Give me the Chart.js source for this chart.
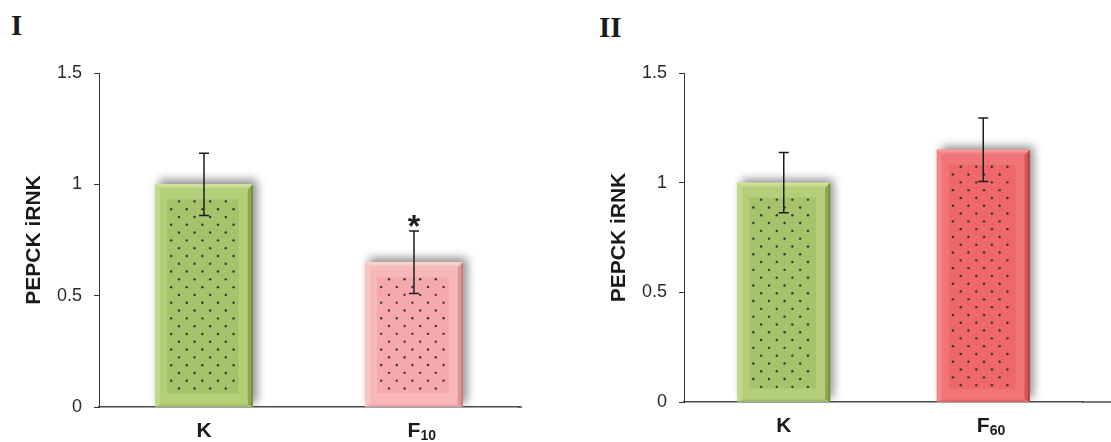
<!DOCTYPE html>
<html>
<head>
<meta charset="utf-8">
<script src="https://cdn.jsdelivr.net/npm/chart.js@4.4.1/dist/chart.umd.min.js"></script>
<style>
  html, body { margin: 0; padding: 0; background: #fff; width: 1111px; height: 442px; overflow: hidden; }
  .panel { position: absolute; top: 0; height: 442px; }
  #p1 { left: 0; width: 555px; }
  #p2 { left: 555px; width: 556px; }
  .tag { position: absolute; font-family: "Liberation Serif", "Times New Roman", serif; font-weight: bold;
         font-size: 29px; line-height: 29px; color: #1a1a1a; }
</style>
</head>
<body>
<div class="tag" style="left:11px;top:11px">I</div>
<div class="tag" style="left:599px;top:13px">II</div>
<div class="panel" id="p1"><canvas id="c1" width="555" height="442"></canvas></div>
<div class="panel" id="p2"><canvas id="c2" width="556" height="442"></canvas></div>

<script>
// Panel I
const labelsI = ['K', 'F'];
const labelSubsI = ['', '10'];
const valuesI = [1.0, 0.65];
const errorsI = [0.14, 0.14];
const marksI = ['', '*'];

// Panel II
const labelsII = ['K', 'F'];
const labelSubsII = ['', '60'];
const valuesII = [1.0, 1.15];
const errorsII = [0.137, 0.145];
const marksII = ['', ''];

// Shared y axis
const yMin = 0;
const yMax = 1.5;
const yStep = 0.5;
const yTitle = 'PEPCK iRNK';

const PAL = {
  green: { main: '#b3cf7a', inner: '#a6c26b', top: '#dbe8a6', left: '#c3da8e', right: '#8aa650', edge: '#6e8a3a', bottom: '#a2be66' },
  pink:  { main: '#f8b7b9', inner: '#f4a9ac', top: '#fcd9d9', left: '#fac5c6', right: '#dc9598', edge: '#c6777b', bottom: '#eea6a9' },
  red:   { main: '#f17476', inner: '#ee6769', top: '#f8a3a4', left: '#f38587', right: '#cf5457', edge: '#b03c40', bottom: '#e4686b' }
};

const FONT = '"Liberation Sans", Arial, Helvetica, sans-serif';

// Bevelled, dotted bars with soft shadow, error bars, labels with subscripts
const barStyle = {
  id: 'barStyle',
  beforeDatasetsDraw(chart, args, opts) {
    const ctx = chart.ctx;
    const area = chart.chartArea;
    const meta = chart.getDatasetMeta(0);
    ctx.save();
    ctx.beginPath();
    ctx.rect(0, 0, chart.width, area.bottom);
    ctx.clip();
    meta.data.forEach((bar, i) => {
      const p = bar.getProps(['x', 'y', 'base', 'width'], true);
      const L = p.x - p.width / 2, T = p.y;
      ctx.save();
      ctx.shadowColor = 'rgba(0,0,0,0.45)';
      ctx.shadowBlur = 9;
      ctx.shadowOffsetX = 4;
      ctx.shadowOffsetY = -4;
      ctx.fillStyle = opts.palettes[i].main;
      ctx.fillRect(L, T, p.width, p.base - T);
      ctx.restore();
    });
    ctx.restore();
  },
  afterDatasetsDraw(chart, args, opts) {
    const ctx = chart.ctx;
    const area = chart.chartArea;
    const yScale = chart.scales.y;
    const xScale = chart.scales.x;
    const meta = chart.getDatasetMeta(0);
    meta.data.forEach((bar, i) => {
      const pal = opts.palettes[i];
      const p = bar.getProps(['x', 'y', 'base', 'width'], true);
      const L = p.x - p.width / 2, R = p.x + p.width / 2, T = p.y, B = p.base;
      const b = 5;
      ctx.save();
      // bevel faces
      const poly = (pts, c) => {
        ctx.beginPath();
        ctx.moveTo(pts[0][0], pts[0][1]);
        for (let k = 1; k < pts.length; k++) ctx.lineTo(pts[k][0], pts[k][1]);
        ctx.closePath();
        ctx.fillStyle = c;
        ctx.fill();
      };
      poly([[L, B], [L + b, B - 2], [R - b, B - 2], [R, B]], pal.bottom);
      poly([[L, T], [L + b, T + b], [L + b, B - 2], [L, B]], pal.left);
      poly([[R, T], [R, B], [R - b, B - 2], [R - b, T + b]], pal.right);
      const g = ctx.createLinearGradient(0, T, 0, T + b);
      g.addColorStop(0, pal.top);
      g.addColorStop(1, pal.main);
      poly([[L, T], [R, T], [R - b, T + b], [L + b, T + b]], g);
      ctx.fillStyle = pal.edge;
      ctx.fillRect(R - 1.5, T + 1, 1.5, B - T - 1);
      // inner panel
      const iL = L + 12, iR = R - 14, iT = T + 15, iB = B - 13;
      ctx.fillStyle = pal.inner;
      ctx.fillRect(iL, iT, iR - iL, iB - iT);
      // dotted fill, staggered rows
      ctx.fillStyle = 'rgba(40,40,40,0.9)';
      const dx = 15.6, dy = 7.8;
      for (let r = 0; iT + 2 + r * dy < iB - 1; r++) {
        const yy = iT + 2 + r * dy;
        const off = (r % 2 === 0) ? dx / 2 : 0;
        for (let xx = iL + 4 + off; xx < iR - 1; xx += dx) {
          ctx.beginPath();
          ctx.arc(xx, yy, 1.2, 0, Math.PI * 2);
          ctx.fill();
        }
      }
      ctx.restore();

      // error bar
      const v = opts.values[i], e = opts.errors[i];
      const yTop = yScale.getPixelForValue(v + e);
      const yBot = yScale.getPixelForValue(v - e);
      ctx.save();
      ctx.strokeStyle = '#1c1c1c';
      ctx.lineWidth = 1.5;
      ctx.beginPath();
      ctx.moveTo(p.x, yTop); ctx.lineTo(p.x, yBot);
      ctx.moveTo(p.x - 5, yTop); ctx.lineTo(p.x + 5, yTop);
      ctx.moveTo(p.x - 5, yBot); ctx.lineTo(p.x + 5, yBot);
      ctx.stroke();
      // significance mark
      if (opts.marks[i]) {
        ctx.fillStyle = '#1c1c1c';
        ctx.font = 'bold 32px ' + FONT;
        ctx.textAlign = 'center';
        ctx.textBaseline = 'alphabetic';
        ctx.fillText(opts.marks[i], p.x, yTop + 6);
      }
      ctx.restore();
    });

    // x axis line continues past the last category
    ctx.save();
    ctx.strokeStyle = '#4a4a4a';
    ctx.lineWidth = 1.5;
    ctx.beginPath();
    ctx.moveTo(area.right - 1, area.bottom);
    ctx.lineTo(opts.axisEnd, area.bottom);
    ctx.stroke();
    ctx.restore();

    // category labels with subscripts
    ctx.save();
    ctx.fillStyle = '#1a1a1a';
    ctx.textBaseline = 'alphabetic';
    opts.labels.forEach((lab, i) => {
      const x = xScale.getPixelForTick(i);
      const base = area.bottom + 30;
      ctx.font = 'bold 21px ' + FONT;
      ctx.textAlign = 'center';
      ctx.fillText(lab, x, base);
      const w = ctx.measureText(lab).width;
      if (opts.subs[i]) {
        ctx.font = 'bold 14px ' + FONT;
        ctx.textAlign = 'left';
        ctx.fillText(opts.subs[i], x + w / 2, base + 3);
      }
    });
    ctx.restore();
  }
};

function makeChart(id, labels, subs, values, errors, marks, palettes, pad, xHeight, axisEnd) {
  return new Chart(document.getElementById(id), {
    type: 'bar',
    data: {
      labels: labels.map((l, i) => l + subs[i]),
      datasets: [{
        data: values,
        backgroundColor: palettes.map(p => p.main),
        borderWidth: 0,
        barPercentage: 0.93,
        categoryPercentage: 0.5
      }]
    },
    options: {
      responsive: false,
      animation: false,
      events: [],
      layout: { padding: { left: pad.left, right: pad.right, top: pad.top, bottom: 0 } },
      plugins: {
        legend: { display: false },
        tooltip: { enabled: false },
        barStyle: { palettes, values, errors, marks, labels, subs, axisEnd }
      },
      scales: {
        x: {
          grid: { display: false },
          border: { display: true, color: '#4a4a4a', width: 1.5 },
          ticks: { display: false },
          afterFit: s => { s.height = xHeight; }
        },
        y: {
          min: yMin, max: yMax,
          ticks: {
            stepSize: yStep,
            padding: 12,
            color: '#2a2a2a',
            font: { family: FONT, size: 18 },
            callback: v => String(Math.round(v * 10) / 10)
          },
          grid: { drawOnChartArea: false, tickLength: 5, color: '#333', tickWidth: 1 },
          border: { display: true, color: '#333', width: 1 },
          title: {
            display: true,
            text: yTitle,
            color: '#1a1a1a',
            font: { family: FONT, size: 21, weight: 'bold' },
            padding: { top: 22, bottom: 0 }
          },
          afterFit: s => { s.width = 99; }
        }
      }
    },
    plugins: [barStyle]
  });
}

makeChart('c1', labelsI, labelSubsI, valuesI, errorsI, marksI,
  [PAL.green, PAL.pink], { left: 0, right: 36, top: 73 }, 35, 522);
makeChart('c2', labelsII, labelSubsII, valuesII, errorsII, marksII,
  [PAL.green, PAL.red], { left: 30, right: 28, top: 73 }, 40, 556);
</script>
</body>
</html>
